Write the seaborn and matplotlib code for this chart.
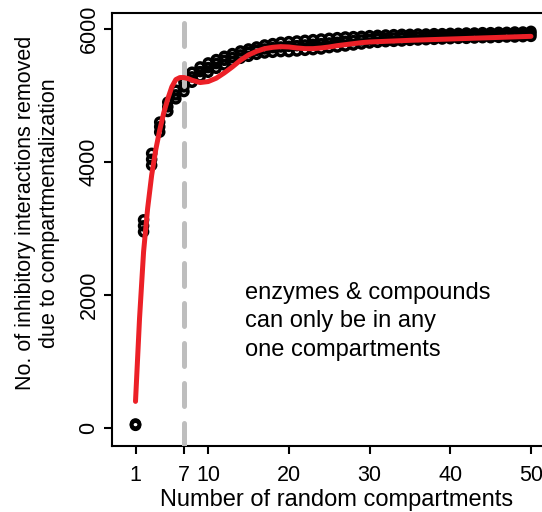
"""
Inhibitory interactions removed vs number of random compartments
"""

import numpy as np
import pandas as pd
import seaborn as sns
import matplotlib
matplotlib.use('Agg')
import matplotlib.pyplot as plt

sns.set_style('ticks')
plt.rcParams['font.family'] = ['Liberation Sans', 'DejaVu Sans']
plt.rcParams['text.color'] = 'black'
plt.rcParams['xtick.color'] = 'black'
plt.rcParams['ytick.color'] = 'black'
plt.rcParams['axes.labelcolor'] = 'black'

# Data

compartments = list(range(1, 51))

# three replicate runs per number of compartments (upper / middle / lower of the band)
removed_hi = [60, 3130, 4130, 4600, 4900, 5080, 5200, 5350, 5430, 5490,
              5540, 5590, 5630, 5670, 5700, 5730, 5760, 5780, 5800, 5810,
              5820, 5830, 5840, 5850, 5860, 5870, 5880, 5885, 5890, 5900,
              5905, 5910, 5915, 5920, 5920, 5925, 5925, 5930, 5930, 5935,
              5935, 5940, 5940, 5945, 5945, 5950, 5950, 5955, 5955, 5965]
removed_mid = [50, 3040, 4040, 4530, 4830, 5010, 5130, 5280, 5360, 5420,
               5480, 5530, 5570, 5610, 5650, 5680, 5700, 5720, 5730, 5740,
               5750, 5760, 5770, 5780, 5790, 5800, 5815, 5825, 5835, 5845,
               5855, 5860, 5865, 5870, 5875, 5880, 5885, 5890, 5890, 5895,
               5900, 5900, 5905, 5905, 5910, 5915, 5915, 5920, 5920, 5930]
removed_lo = [40, 2950, 3950, 4450, 4760, 4950, 5060, 5200, 5280, 5350,
              5410, 5460, 5510, 5560, 5590, 5620, 5640, 5650, 5660, 5660,
              5670, 5680, 5690, 5700, 5720, 5730, 5745, 5760, 5775, 5790,
              5800, 5810, 5815, 5820, 5830, 5835, 5840, 5845, 5850, 5855,
              5860, 5860, 5865, 5870, 5870, 5875, 5880, 5880, 5885, 5890]

# smooth fit (red curve)
fit_x = [1, 1.5, 2, 2.5, 3, 3.5, 4, 4.5, 5, 5.5, 6, 6.5, 7, 7.5, 8, 9, 10,
         11, 12, 13, 14, 15, 16, 17, 18, 19, 20, 21, 22, 23, 24, 25, 26,
         27, 28, 29, 30, 32, 35, 40, 45, 50]
fit_y = [400, 1650, 2650, 3300, 3800, 4180, 4480, 4740, 4950, 5130, 5240,
         5270, 5270, 5255, 5230, 5195, 5210, 5260, 5340, 5430, 5530, 5610,
         5665, 5705, 5725, 5735, 5730, 5715, 5705, 5705, 5715, 5730, 5750,
         5765, 5780, 5795, 5805, 5815, 5830, 5850, 5870, 5890]

x_ticks = [1, 7, 10, 20, 30, 40, 50]
y_ticks = [0, 2000, 4000, 6000]
cutoff = 7

note = 'enzymes & compounds\ncan only be in any\none compartments'

# Build tables

dfPts = pd.DataFrame({'Compartments': compartments * 3,
                      'Removed': removed_lo + removed_mid + removed_hi})
dfFit = pd.DataFrame({'Compartments': fit_x, 'Removed': fit_y})

# Plot

fig = plt.figure(figsize=(5.42, 5.12), dpi=100)
ax = fig.add_axes([111.7 / 542, 66 / 512, 435.8 / 542, 433 / 512])

sns.scatterplot(x='Compartments', y='Removed', data=dfPts, ax=ax,
                marker='o', s=34, color='black', facecolor='none',
                edgecolor='black', linewidth=2.5, zorder=2)
ax.axvline(cutoff, color='#BEBEBE', linewidth=3.6, dashes=(4.6, 3.4),
           dash_capstyle='round', zorder=3)
sns.lineplot(x='Compartments', y='Removed', data=dfFit, ax=ax,
             color='#EC2027', linewidth=3.6, solid_capstyle='round',
             sort=False, zorder=4)

ax.set_xlim(-1.95, 52.05)
ax.set_ylim(-271, 6241)
ax.set_xticks(x_ticks)
ax.set_xticklabels([str(t) for t in x_ticks], fontsize=15.5)
ax.set_yticks(y_ticks)
ax.set_yticklabels([str(t) for t in y_ticks], fontsize=15.5,
                   rotation=90, va='center')
ax.tick_params(axis='both', direction='out', length=5.8, width=1.5,
               color='black')
ax.tick_params(axis='x', pad=8)
ax.tick_params(axis='y', pad=3)
ax.set_xlabel('')
ax.set_ylabel('')

for side in ['left', 'bottom', 'top']:
    ax.spines[side].set_linewidth(1.5)
    ax.spines[side].set_color('black')
ax.spines['right'].set_visible(False)

ax.text(14.57, 1090, note, fontsize=17, ha='left', va='baseline',
        linespacing=1.38)

fig.text(337 / 542, 6 / 512, 'Number of random compartments', fontsize=17,
         ha='center', va='baseline')
fig.text(37.5 / 542, (512 - 213) / 512,
         'No. of inhibitory interactions removed\ndue to compartmentalization',
         fontsize=15.5, rotation=90, ha='center', va='center',
         multialignment='center', linespacing=1.15)

fig.savefig('out.png', dpi=100)
